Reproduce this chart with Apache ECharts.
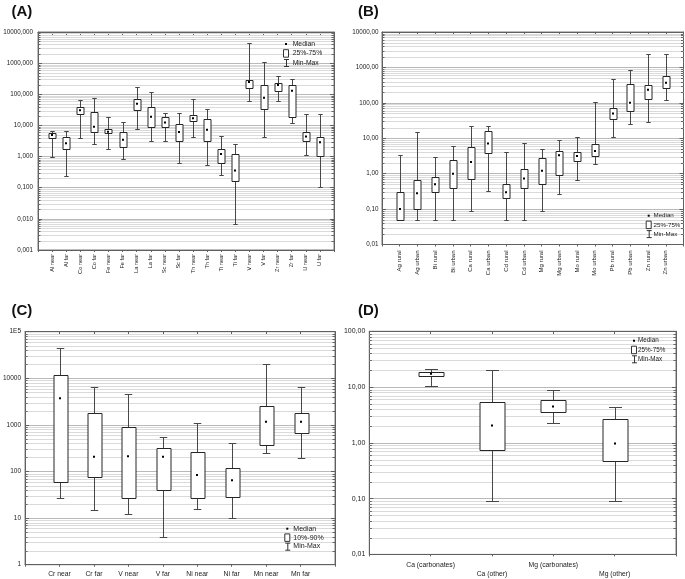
<!DOCTYPE html>
<html>
<head>
<meta charset="utf-8">
<script src="https://cdn.jsdelivr.net/npm/echarts@6/dist/echarts.min.js"></script>
<style>
html,body{margin:0;padding:0;background:#fff;}
#chart{width:685px;height:579px;}
</style>
</head>
<body>
<div id="chart"></div>
<script>
// ---------- Panel A ----------
const catsA = ['Al near','Al far','Co near','Co far','Fe near','Fe far','La near','La far','Sc near','Sc far',
               'Th near','Th far','Ti near','Ti far','V near','V far','Zr near','Zr far','U near','U far'];
const minA = [1.0, 0.24, 4.0, 2.6, 1.77, 0.84, 7.5, 3.1, 3.2, 0.62, 4.3, 0.52, 0.26, 0.0069, 60, 4.1, 60, 12.4, 1.16, 0.105];
const q1A  = [4.0, 1.7, 23, 6.0, 5.6, 2.0, 31, 9.1, 9.1, 3.1, 14, 3.1, 0.61, 0.164, 165, 33, 131, 18.5, 3.2, 1.02];
const medA = [4.9, 2.7, 31, 9.1, 6.3, 3.5, 50, 19, 12.5, 6.1, 17, 7.3, 1.2, 0.36, 250, 77, 200, 129, 4.4, 2.9];
const q3A  = [5.6, 4.4, 40, 28, 7.5, 6.3, 72, 38, 18, 11, 21, 15.6, 1.7, 1.19, 295, 195, 239, 192, 6.1, 4.3];
const maxA = [6.8, 6.8, 66, 77, 19, 13, 175, 118, 26, 26, 69, 34, 4.6, 2.5, 4600, 1100, 400, 320, 22.5, 24];
const ticksA = ['0,001','0,010','0,100','1,000','10,000','100,000','1000,000','10000,000'];

// ---------- Panel B ----------
const catsB = ['Ag rural','Ag urban','Bi rural','Bi urban','Ca rural','Ca urban','Cd rural','Cd urban',
               'Mg rural','Mg urban','Mo rural','Mo urban','Pb rural','Pb urban','Zn rural','Zn urban'];
const minB = [0.05, 0.05, 0.05, 0.05, 0.09, 0.33, 0.05, 0.05, 0.09, 0.26, 0.68, 1.9, 11, 26, 29.5, 117];
const q1B  = [0.05, 0.10, 0.3, 0.4, 0.71, 3.8, 0.2, 0.4, 0.5, 0.89, 2.35, 3.1, 36, 60, 130, 270];
const medB = [0.10, 0.28, 0.5, 1.0, 2.15, 7.1, 0.3, 0.73, 1.2, 3.3, 3.15, 4.4, 50, 100, 234, 370];
const q3B  = [0.30, 0.68, 0.83, 2.45, 5.5, 16.4, 0.5, 1.37, 2.7, 4.4, 4.2, 7.1, 73, 345, 325, 565];
const maxB = [3.3, 14.7, 3.0, 6.1, 22.5, 22, 4.2, 7.3, 4.9, 9.2, 10.7, 105, 480, 850, 2450, 2350];
const ticksB = ['0,01','0,10','1,00','10,00','100,00','1000,00','10000,00'];

// ---------- Panel C ----------
const catsC = ['Cr near','Cr far','V near','V far','Ni near','Ni far','Mn near','Mn far'];
const minC = [26.5, 14.9, 12, 4.0, 16, 10, 246, 199];
const q1C  = [60, 78, 27.5, 40, 27.5, 28, 370, 660];
const medC = [3720, 206, 213, 206, 84, 65, 1170, 1170];
const q3C  = [11600, 1800, 890, 325, 267, 116, 2590, 1780];
const maxC = [44000, 6450, 4500, 560, 1120, 415, 20600, 6600];
const ticksC = ['1','10','100','1000','10000','1E5'];

// ---------- Panel D ----------
const catsD = ['Ca (carbonates)','Ca (other)','Mg (carbonates)','Mg (other)'];
const minD = [10.3, 0.091, 2.28, 0.091];
const q1D  = [15.9, 0.74, 3.6, 0.48];
const medD = [17.3, 2.04, 4.5, 0.97];
const q3D  = [18.8, 5.4, 5.9, 2.7];
const maxD = [21.5, 20, 8.8, 4.4];
const ticksD = ['0,01','0,10','1,00','10,00','100,00'];

const FONT = 'Liberation Sans, Arial, sans-serif';

function minorValues(lo, hi) {
  const out = [];
  for (let e = Math.round(Math.log10(lo)); e < Math.round(Math.log10(hi)); e++) {
    for (let m = 2; m <= 9; m++) out.push(+(m * Math.pow(10, e)).toPrecision(3));
  }
  return out;
}

function boxRenderer(boxW, capW) {
  return function (params, api) {
    const x = api.value(0);
    const pMin = api.coord([x, api.value(1)]);
    const pQ1 = api.coord([x, api.value(2)]);
    const pMed = api.coord([x, api.value(3)]);
    const pQ3 = api.coord([x, api.value(4)]);
    const pMax = api.coord([x, api.value(5)]);
    const cx = Math.round(pMed[0]) + 0.5;
    const ws = { stroke: '#474747', lineWidth: 1 };
    const yMax = Math.round(pMax[1]) + 0.5, yMin = Math.round(pMin[1]) + 0.5;
    const yQ3 = Math.round(pQ3[1]) + 0.5, yQ1 = Math.round(pQ1[1]) + 0.5;
    return {
      type: 'group',
      children: [
        { type: 'line', shape: { x1: cx, y1: yMax, x2: cx, y2: yQ3 }, style: ws },
        { type: 'line', shape: { x1: cx, y1: yQ1, x2: cx, y2: yMin }, style: ws },
        { type: 'line', shape: { x1: cx - capW / 2, y1: yMax, x2: cx + capW / 2, y2: yMax }, style: ws },
        { type: 'line', shape: { x1: cx - capW / 2, y1: yMin, x2: cx + capW / 2, y2: yMin }, style: ws },
        { type: 'rect', shape: { x: Math.round(cx - boxW / 2), y: yQ3, width: Math.round(boxW), height: Math.max(yQ1 - yQ3, 1) },
          style: { fill: '#fff', stroke: '#262626', lineWidth: 1 } },
        { type: 'rect', shape: { x: cx - 1.5, y: pMed[1] - 1, width: 2, height: 2 }, style: { fill: '#000' } }
      ]
    };
  };
}

function minorRenderer(params, api) {
  const cs = params.coordSys;
  const y = Math.round(api.coord([0, api.value(1)])[1]) + 0.5;
  return {
    type: 'group',
    children: [
      { type: 'line', shape: { x1: cs.x, y1: y, x2: cs.x + cs.width, y2: y }, style: { stroke: '#dadada', lineWidth: 1 } },
      { type: 'line', shape: { x1: cs.x, y1: y, x2: cs.x + 2.5, y2: y }, style: { stroke: '#666', lineWidth: 1 } },
      { type: 'line', shape: { x1: cs.x + cs.width - 2.5, y1: y, x2: cs.x + cs.width, y2: y }, style: { stroke: '#666', lineWidth: 1 } }
    ]
  };
}

const panels = [
  { cats: catsA, mins: minA, q1s: q1A, meds: medA, q3s: q3A, maxs: maxA, ticks: ticksA, yMin: 0.001, yMax: 10000,
    rect: [38, 32, 296, 218], rotate: 90, xSize: 5.6, ySize: 6.3, xMargin: 4, yMargin: 5, boxW: 6.5, capW: 4.5, stagger: false },
  { cats: catsB, mins: minB, q1s: q1B, meds: medB, q3s: q3B, maxs: maxB, ticks: ticksB, yMin: 0.01, yMax: 10000,
    rect: [382, 32, 301.5, 212.5], rotate: 90, xSize: 6, ySize: 6.3, xMargin: 6, yMargin: 3.5, boxW: 6.5, capW: 4.5, stagger: false },
  { cats: catsC, mins: minC, q1s: q1C, meds: medC, q3s: q3C, maxs: maxC, ticks: ticksC, yMin: 1, yMax: 100000,
    rect: [23.3, 331.7, 311.7, 234.3], rotate: 0, xSize: 6.8, ySize: 6.5, xMargin: 5, yMargin: 4, boxW: 14, capW: 7.5, stagger: false },
  { cats: catsD, mins: minD, q1s: q1D, meds: medD, q3s: q3D, maxs: maxD, ticks: ticksD, yMin: 0.01, yMax: 100,
    rect: [369.3, 331.3, 306.7, 225.7], rotate: 0, xSize: 6.8, ySize: 7, xMargin: 6, yMargin: 4, boxW: 25, capW: 13, stagger: true }
];

const grid = [], xAxis = [], yAxis = [], series = [];
const axisLineStyle = { color: '#606060', width: 1 };

panels.forEach((p, i) => {
  const n = p.cats.length;
  grid.push({ left: p.rect[0], top: p.rect[1], width: p.rect[2], height: p.rect[3],
              show: true, borderColor: '#7a7a7a', borderWidth: 1, backgroundColor: 'rgba(0,0,0,0)' });
  xAxis.push({
    type: 'value', gridIndex: i, min: -1, max: n, interval: 1, position: 'bottom',
    axisLine: { show: true, onZero: false, lineStyle: axisLineStyle },
    axisTick: { show: true, inside: false, length: 2, lineStyle: axisLineStyle },
    splitLine: { show: false },
    axisLabel: {
      rotate: p.rotate, fontSize: p.xSize, fontFamily: FONT, color: '#222', margin: p.xMargin,
      lineHeight: 9.3, showMinLabel: true, showMaxLabel: true,
      formatter: (v) => {
        const k = Math.round(v);
        if (k < 0 || k >= n) return '';
        return (p.stagger && k % 2 === 1 ? '\n' : '') + p.cats[k];
      }
    }
  });
  xAxis.push({
    type: 'value', gridIndex: i, min: -1, max: n, interval: 1, position: 'top',
    axisLine: { show: true, onZero: false, lineStyle: axisLineStyle },
    axisTick: { show: true, inside: true, length: 3, lineStyle: axisLineStyle },
    splitLine: { show: false }, axisLabel: { show: false }
  });
  yAxis.push({
    type: 'log', logBase: 10, gridIndex: i, min: p.yMin, max: p.yMax, splitNumber: 10, position: 'left',
    axisLine: { show: true, onZero: false, lineStyle: axisLineStyle },
    axisTick: { show: true, inside: true, length: 4, lineStyle: axisLineStyle },
    splitLine: { show: true, lineStyle: { color: '#b9b9b9', width: 1 } },
    axisLabel: {
      fontSize: p.ySize, fontFamily: FONT, color: '#222', margin: p.yMargin,
      formatter: (v) => {
        const k = Math.round(Math.log10(v) - Math.log10(p.yMin));
        return p.ticks[k] !== undefined ? p.ticks[k] : '';
      }
    }
  });
  yAxis.push({
    type: 'log', logBase: 10, gridIndex: i, min: p.yMin, max: p.yMax, splitNumber: 10, position: 'right',
    axisLine: { show: true, onZero: false, lineStyle: axisLineStyle },
    axisTick: { show: true, inside: true, length: 4, lineStyle: axisLineStyle },
    splitLine: { show: false }, axisLabel: { show: false }
  });
  series.push({
    type: 'custom', xAxisIndex: 2 * i, yAxisIndex: 2 * i, silent: true, z: 1,
    renderItem: minorRenderer, encode: { x: 0, y: 1 },
    data: minorValues(p.yMin, p.yMax).map(v => [0, v])
  });
  series.push({
    type: 'custom', xAxisIndex: 2 * i, yAxisIndex: 2 * i, z: 5,
    renderItem: boxRenderer(p.boxW, p.capW), encode: { x: 0, y: [1, 2, 3, 4, 5] },
    data: p.cats.map((c, k) => [k, p.mins[k], p.q1s[k], p.meds[k], p.q3s[k], p.maxs[k]])
  });
});

function legend(x0, y0, tx, boxLabel, fs, step) {
  const ts = { fontSize: fs, fontFamily: FONT, fill: '#1a1a1a', verticalAlign: 'middle', align: 'left' };
  return [
    { type: 'rect', z: 100, shape: { x: x0 + 2, y: y0 - 1, width: 2, height: 2 }, style: { fill: '#000' } },
    { type: 'text', z: 100, x: tx, y: y0, style: Object.assign({ text: 'Median' }, ts) },
    { type: 'rect', z: 100, shape: { x: x0 + 0.5, y: y0 + step - 3.8, width: 5, height: 7.5 }, style: { fill: '#fff', stroke: '#333', lineWidth: 1 } },
    { type: 'text', z: 100, x: tx, y: y0 + step, style: Object.assign({ text: boxLabel }, ts) },
    { type: 'line', z: 100, shape: { x1: x0 + 3.5, y1: y0 + 2 * step - 3.5, x2: x0 + 3.5, y2: y0 + 2 * step + 3.5 }, style: { stroke: '#333', lineWidth: 1 } },
    { type: 'line', z: 100, shape: { x1: x0 + 1, y1: y0 + 2 * step - 3.5, x2: x0 + 6, y2: y0 + 2 * step - 3.5 }, style: { stroke: '#333', lineWidth: 1 } },
    { type: 'line', z: 100, shape: { x1: x0 + 1, y1: y0 + 2 * step + 3.5, x2: x0 + 6, y2: y0 + 2 * step + 3.5 }, style: { stroke: '#333', lineWidth: 1 } },
    { type: 'text', z: 100, x: tx, y: y0 + 2 * step - 0.3, style: Object.assign({ text: 'Min-Max' }, ts) }
  ];
}

function title(t, x, y) {
  return { type: 'text', z: 100, x: x, y: y, style: { text: t, fontSize: 15, fontWeight: 'bold', fontFamily: FONT, fill: '#111', verticalAlign: 'middle' } };
}

const graphic = [
  title('(A)', 11.5, 12), title('(B)', 358, 12), title('(C)', 11.5, 310.5), title('(D)', 358, 310.5)
].concat(
  legend(283, 44, 292.7, '25%-75%', 6.8, 9.5),
  legend(645.7, 215.7, 653.5, '25%-75%', 6.2, 9.2),
  legend(284.3, 528.7, 293.3, '10%-90%', 7, 9),
  legend(631, 340.7, 638, '25%-75%', 6.3, 9.3)
);

const chart = echarts.init(document.getElementById('chart'), null, { renderer: 'canvas' });
chart.setOption({
  animation: false,
  backgroundColor: '#fff',
  textStyle: { fontFamily: FONT },
  grid, xAxis, yAxis, series,
  graphic: { elements: graphic }
});
</script>
</body>
</html>
